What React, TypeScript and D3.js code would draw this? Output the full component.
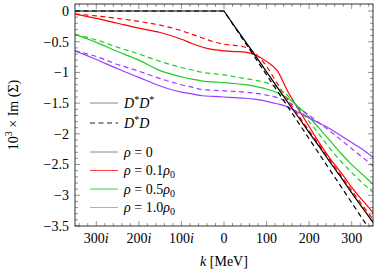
import React from 'react';
import * as d3 from 'd3';

// k < 0 stands for imaginary momentum (k = |k| i)
const kValues = [-350, -300, -250, -200, -150, -100, -75, -50, -25, 0, 25, 50, 75, 100, 125, 150, 175, 200, 225, 250, 275, 300, 325, 350];

const rho0Solid = [0, 0, 0, 0, 0, 0, 0, 0, 0, 0, -0.25, -0.495, -0.74, -0.99, -1.24, -1.49, -1.73, -1.98, -2.22, -2.47, -2.71, -2.96, -3.2, -3.44];
const rho0Dashed = [0, 0, 0, 0, 0, 0, 0, 0, 0, 0, -0.26, -0.52, -0.78, -1.04, -1.3, -1.56, -1.82, -2.08, -2.34, -2.6, -2.86, -3.12, -3.38, -3.64];

const rho01Solid = [-0.05, -0.12, -0.2, -0.28, -0.35, -0.46, -0.53, -0.59, -0.63, -0.65, -0.66, -0.67, -0.72, -0.82, -0.97, -1.31, -1.6, -1.88, -2.16, -2.41, -2.63, -2.87, -3.08, -3.28];
const rho01Dashed = [-0.05, -0.08, -0.12, -0.17, -0.23, -0.32, -0.38, -0.44, -0.5, -0.54, -0.56, -0.59, -0.7, -0.9, -1.18, -1.45, -1.7, -1.95, -2.19, -2.44, -2.68, -2.92, -3.16, -3.39];

const rho05Solid = [-0.38, -0.51, -0.66, -0.8, -0.97, -1.07, -1.11, -1.14, -1.155, -1.165, -1.18, -1.2, -1.23, -1.27, -1.33, -1.42, -1.56, -1.73, -1.92, -2.12, -2.32, -2.5, -2.66, -2.82];
const rho05Dashed = [-0.38, -0.47, -0.59, -0.7, -0.82, -0.92, -0.96, -1.0, -1.02, -1.04, -1.07, -1.1, -1.13, -1.17, -1.25, -1.38, -1.58, -1.8, -2.02, -2.25, -2.45, -2.63, -2.8, -2.95];

const rho10Solid = [-0.65, -0.79, -0.94, -1.08, -1.22, -1.32, -1.35, -1.38, -1.39, -1.4, -1.41, -1.42, -1.44, -1.47, -1.51, -1.56, -1.65, -1.74, -1.83, -1.92, -2.03, -2.14, -2.25, -2.38];
const rho10Dashed = [-0.65, -0.74, -0.87, -0.98, -1.1, -1.2, -1.24, -1.28, -1.29, -1.3, -1.31, -1.32, -1.34, -1.37, -1.41, -1.48, -1.58, -1.7, -1.83, -1.96, -2.1, -2.24, -2.38, -2.52];

const xMajorTicks = [-300, -200, -100, 0, 100, 200, 300];
const xTickLabels = ['300', '200', '100', '0', '100', '200', '300'];
const yMajorTicks = [0, -0.5, -1, -1.5, -2, -2.5, -3, -3.5];
const yTickLabels = ['0', '\u22120.5', '\u22121', '\u22121.5', '\u22122', '\u22122.5', '\u22123', '\u22123.5'];

const densityLabels = ['0', '0.1', '0.5', '1.0'];

const W = 374;
const H = 275;
const m = { left: 75, right: 373, top: 4, bottom: 226 };
const FONT = "'Liberation Serif', 'DejaVu Serif', serif";

export default function App() {
  const x = d3.scaleLinear().domain([-350, 350]).range([m.left, m.right]);
  const y = d3.scaleLinear().domain([-3.5, 0.114]).range([m.bottom, m.top]);

  const smooth = d3.line<number>()
    .x((_, i) => x(kValues[i]))
    .y((d) => y(d))
    .curve(d3.curveMonotoneX);
  const straight = d3.line<number>()
    .x((_, i) => x(kValues[i]))
    .y((d) => y(d));

  const series = [
    { vals: rho01Dashed, color: '#ff0000', dash: true, gen: smooth },
    { vals: rho01Solid, color: '#ff0000', dash: false, gen: smooth },
    { vals: rho05Dashed, color: '#1fcc1f', dash: true, gen: smooth },
    { vals: rho05Solid, color: '#1fcc1f', dash: false, gen: smooth },
    { vals: rho10Dashed, color: '#9a3cff', dash: true, gen: smooth },
    { vals: rho10Solid, color: '#9a3cff', dash: false, gen: smooth },
    { vals: rho0Dashed, color: '#000000', dash: true, gen: straight },
    { vals: rho0Solid, color: '#000000', dash: false, gen: straight },
  ];

  const xMinor = d3.range(-340, 341, 20).filter((v) => v % 100 !== 0);
  const yMinor = d3.range(-35, 1, 1).map((v) => v / 10).filter((v) => Math.round(v * 10) % 5 !== 0);

  const tickColor = '#666';
  const legendColors = ['#888', '#ff4040', '#44cc44', '#c39bff'];

  return (
    <svg width={W} height={H} style={{ position: 'absolute', left: 0, top: 0, background: '#fff', fontFamily: FONT }}>
      <defs>
        <clipPath id="plotclip">
          <rect x={m.left} y={m.top} width={m.right - m.left} height={m.bottom - m.top} />
        </clipPath>
      </defs>

      {/* ticks, pointing inward on all four sides */}
      <g stroke={tickColor} strokeWidth={0.7}>
        {xMinor.map((v) => (
          <g key={'xm' + v}>
            <line x1={x(v)} x2={x(v)} y1={m.bottom} y2={m.bottom - 3} />
            <line x1={x(v)} x2={x(v)} y1={m.top} y2={m.top + 3} />
          </g>
        ))}
        {xMajorTicks.map((v) => (
          <g key={'xM' + v}>
            <line x1={x(v)} x2={x(v)} y1={m.bottom} y2={m.bottom - 5} />
            <line x1={x(v)} x2={x(v)} y1={m.top} y2={m.top + 5} />
          </g>
        ))}
        {yMinor.map((v) => (
          <g key={'ym' + v}>
            <line x1={m.left} x2={m.left + 3} y1={y(v)} y2={y(v)} />
            <line x1={m.right} x2={m.right - 3} y1={y(v)} y2={y(v)} />
          </g>
        ))}
        {yMajorTicks.map((v) => (
          <g key={'yM' + v}>
            <line x1={m.left} x2={m.left + 5} y1={y(v)} y2={y(v)} />
            <line x1={m.right} x2={m.right - 5} y1={y(v)} y2={y(v)} />
          </g>
        ))}
      </g>

      {/* curves */}
      <g clipPath="url(#plotclip)" fill="none">
        {series.map((s, i) => (
          <path
            key={i}
            d={s.gen(s.vals) || ''}
            stroke={s.color}
            strokeWidth={1.2}
            strokeDasharray={s.dash ? '5,3.5' : undefined}
          />
        ))}
      </g>

      {/* frame */}
      <rect x={m.left} y={m.top} width={m.right - m.left} height={m.bottom - m.top} fill="none" stroke="#000" strokeWidth={0.8} />

      {/* tick labels */}
      <g fontSize={14} fill="#000">
        {xMajorTicks.map((v, i) => (
          <text key={'xl' + v} x={x(v)} y={243} textAnchor="middle">
            {xTickLabels[i]}
            {v < 0 ? <tspan fontStyle="italic">i</tspan> : null}
          </text>
        ))}
        {yMajorTicks.map((v, i) => (
          <text key={'yl' + v} x={69} y={y(v)} dy="0.35em" textAnchor="end">
            {yTickLabels[i]}
          </text>
        ))}
      </g>

      {/* axis titles */}
      <text x={(m.left + m.right) / 2} y={266} textAnchor="middle" fontSize={14}>
        <tspan fontStyle="italic">k</tspan> [MeV]
      </text>
      <text transform={`translate(18,${(m.top + m.bottom) / 2}) rotate(-90)`} textAnchor="middle" fontSize={14}>
        10<tspan fontSize={10} dy={-6}>3</tspan>
        <tspan dy={6}> {'\u00d7'} Im (&#931;)</tspan>
      </text>

      {/* legend */}
      <g fontSize={14}>
        <line x1={90} x2={118} y1={103} y2={103} stroke="#888" strokeWidth={1} />
        <text x={124} y={103} dy="0.35em">
          <tspan fontStyle="italic">D</tspan><tspan fontSize={10} dy={-5}>*</tspan>
          <tspan fontStyle="italic" dy={5}>D</tspan><tspan fontSize={10} dy={-5}>*</tspan>
        </text>
        <line x1={90} x2={118} y1={123} y2={123} stroke="#222" strokeWidth={1} strokeDasharray="5,3.5" />
        <text x={124} y={123} dy="0.35em">
          <tspan fontStyle="italic">D</tspan><tspan fontSize={10} dy={-5}>*</tspan>
          <tspan fontStyle="italic" dy={5}>D</tspan>
        </text>
        {densityLabels.map((lab, i) => {
          const ly = [152, 170.5, 189, 207.5][i];
          return (
            <g key={lab}>
              <line x1={90} x2={118} y1={ly} y2={ly} stroke={legendColors[i]} strokeWidth={1} />
              <text x={124} y={ly} dy="0.35em">
                <tspan fontStyle="italic">{'\u03c1'}</tspan> = {lab}
                {i > 0 ? (
                  <>
                    <tspan fontStyle="italic">{'\u03c1'}</tspan>
                    <tspan fontSize={10} dy={3}>0</tspan>
                  </>
                ) : null}
              </text>
            </g>
          );
        })}
      </g>
    </svg>
  );
}
